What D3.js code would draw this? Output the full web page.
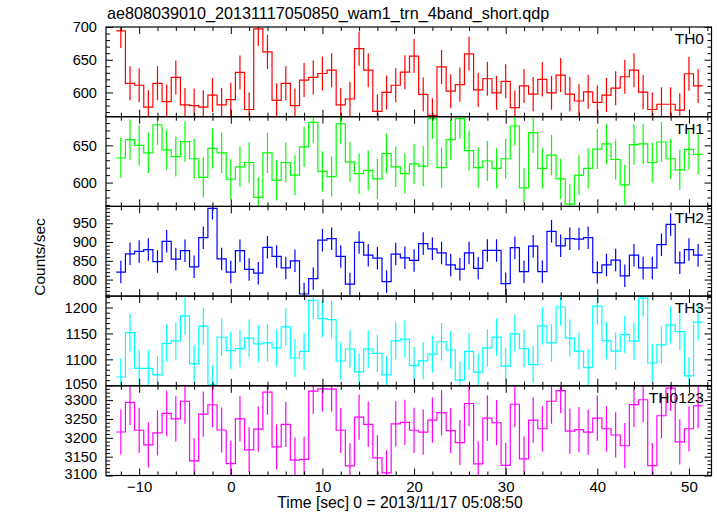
<!DOCTYPE html>
<html><head><meta charset="utf-8">
<script src="https://cdn.jsdelivr.net/npm/d3@7"></script>
<style>
body{margin:0;background:#fff}
text{font-family:"Liberation Sans",Arial,Helvetica,sans-serif}
</style>
</head><body>
<svg id="chart" width="717" height="516"></svg>
<script>
const titleText = "ae808039010_20131117050850_wam1_trn_4band_short.qdp";
const xLabel = "Time [sec] 0 = 2013/11/17 05:08:50";
const yLabel = "Counts/sec";
const times = [-12,-11,-10,-9,-8,-7,-6,-5,-4,-3,-2,-1,0,1,2,3,4,5,6,7,8,9,10,11,12,13,14,15,16,17,18,19,20,21,22,23,24,25,26,27,28,29,30,31,32,33,34,35,36,37,38,39,40,41,42,43,44,45,46,47,48,49,50,51];
const bandNames = ["TH0","TH1","TH2","TH3","TH0123"];
const bandColors = ["#ff0000","#00ff00","#0000ff","#00ffff","#ff00ff"];
const th0 = [694,614,611,577.5,614,586,623,581,580,577.5,596,581,589,630.6,574,697,662,588,614,580,619,623,629,634,581,590,667,634,571,600,611,631,655.6,597,565,639,602,612,659,604,621,599.5,617,577,610,597.5,620,599.5,626.5,597.5,587,601,585,596,606.6,624,634,600.5,574,582,582,573,628.6,610];
const th1 = [633,657.6,650,640,677.7,644,635,655,632,607,646,640,604.5,621,627,580,640,603,627,610,648,681,615,608,679,627.7,612,616.5,605,639,621,612,625,622,686,620,657.6,686,643,620,629,619,632,676,593,667,619,637,605,571,610,619,645,652,631,597,651,652,627,654.5,632,617,644.6,638];
const th2 = [820,868.7,875,880,848,902,854.5,877,834,911.6,990,855,820,877,827,817,886,861.6,831,850,761.6,802.7,905,909,861.6,788,899,865,857,794.6,868,858,851,896,882,871,839,827.7,871,830,877.7,877.7,789,885,821,889,821,928.6,890,909,908,911.6,818.7,839,852,810,865,831,831,893,947,844.6,880,865];
const th3 = [1066,1151.6,1082.6,1082.6,1070,1131,1135.5,1184,1091.6,1164,1052,1142.6,1117,1120.6,1141,1129.7,1131.6,1122,1162.6,1102.6,1115.5,1214,1178.7,1176.8,1096.8,1120,1076,1120,1111.6,1070,1135.5,1139,1088,1097,1110,1134,1118,1060,1115.5,1075.5,1122,1143,1087,1149,1120.6,1090,1164.5,1131.6,1201,1141,1116,1084,1202.6,1136,1116,1148,1135,1218,1093,1127.8,1166.5,1153.6,1068,1172];
const th0123 = [3215.4,3294,3220,3181,3213,3265,3250,3297,3139,3263,3287.7,3220.7,3131.7,3250,3168,3223,3321,3176,3235.7,3141,3143,3324,3330,3329,3220,3125.6,3255,3235.7,3146.7,3107,3237,3241,3220,3215,3247,3267,3219,3187,3291,3131,3252,3240,3127,3289,3144,3247,3224,3297,3325,3218,3221.6,3215,3252,3224,3207.5,3179,3288,3301,3126,3258.6,3332,3189,3224,3285];
const bandErrors = [26, 27, 30, 36, 60];
const yDomains = [[563,700],[568,688.5],[756,995],[1049,1222],[3100,3338]];
const yTickLabels = [[600,650,700],[600,650],[800,850,900,950],[1050,1100,1150,1200],[3100,3150,3200,3250,3300]];
const xTickLabels = [-10,0,10,20,30,40,50];
const xDomain = [-13.62, 52.46];

const series = [th0, th1, th2, th3, th0123];
const svg = d3.select("#chart");
const L = 106, R = 711.5, T = 27, B = 475.5;
const ph = (B - T) / bandNames.length;
const x = d3.scaleLinear().domain(xDomain).range([L, R]);
const xMinor = d3.range(-12, 53, 2).filter(v => v % 10 !== 0);
const fs = "14.6px";

svg.append("text").attr("x", 107).attr("y", 19).attr("font-size", "16.2px").attr("fill", "#000").text(titleText);
svg.append("text").attr("x", 400).attr("y", 508).attr("text-anchor", "middle").attr("font-size", "15.7px").text(xLabel);
svg.append("text").attr("transform", `translate(45,257) rotate(-90)`).attr("text-anchor", "middle").attr("font-size", "15.5px").text(yLabel);

bandNames.forEach((name, k) => {
  const top = T + k * ph, bot = top + ph;
  const y = d3.scaleLinear().domain(yDomains[k]).range([bot, top]);
  const vals = series[k];
  const err = bandErrors[k];
  const col = bandColors[k];
  const g = svg.append("g");
  const cid = "clip" + k;
  svg.append("clipPath").attr("id", cid).append("rect").attr("x", L).attr("y", top).attr("width", R - L).attr("height", ph);
  const dg = g.append("g").attr("clip-path", `url(#${cid})`);
  const pts = times.map((t, i) => [t - 0.5, vals[i]]);
  pts.push([times[times.length - 1] + 0.5, vals[vals.length - 1]]);
  const line = d3.line().x(d => x(d[0])).y(d => y(d[1])).curve(d3.curveStepAfter);
  dg.append("path").attr("d", line(pts)).attr("fill", "none").attr("stroke", col).attr("stroke-width", 1.2);
  dg.selectAll("line.err").data(times).join("line")
    .attr("x1", t => x(t)).attr("x2", t => x(t))
    .attr("y1", (t, i) => y(vals[i] - err)).attr("y2", (t, i) => y(vals[i] + err))
    .attr("stroke", col).attr("stroke-width", 1.2);

  const yMinor = d3.range(Math.ceil(yDomains[k][0] / 10) * 10, yDomains[k][1] + 0.01, 10).filter(v => v % 50 !== 0);
  const styleAxis = sel => { sel.select(".domain").remove(); sel.selectAll(".tick line").attr("stroke", "#000"); sel.selectAll("text").attr("font-size", fs).attr("font-family", '"Liberation Sans",Arial,sans-serif').attr("fill", "#000"); };
  const isLast = k === bandNames.length - 1;
  g.append("g").attr("transform", `translate(0,${bot})`)
    .call(d3.axisBottom(x).tickValues(xTickLabels).tickSize(-7).tickPadding(6).tickFormat(isLast ? d3.format("d") : () => ""))
    .call(styleAxis).selectAll("text").attr("font-size", "15px");
  g.append("g").attr("transform", `translate(0,${bot})`)
    .call(d3.axisBottom(x).tickValues(xMinor).tickSize(-4).tickFormat(() => "")).call(styleAxis);
  g.append("g").attr("transform", `translate(0,${top})`)
    .call(d3.axisTop(x).tickValues(xTickLabels).tickSize(-7).tickFormat(() => "")).call(styleAxis);
  g.append("g").attr("transform", `translate(0,${top})`)
    .call(d3.axisTop(x).tickValues(xMinor).tickSize(-4).tickFormat(() => "")).call(styleAxis);
  const yl = g.append("g").attr("transform", `translate(${L},0)`)
    .call(d3.axisLeft(y).tickValues(yTickLabels[k]).tickSize(-7).tickPadding(9).tickFormat(d3.format("d"))).call(styleAxis);
  // nudge labels sitting on a panel's lower edge so they clear the label of the next panel
  yl.selectAll(".tick").filter(d => y(d) > bot - 3).select("text").attr("dy", "0.2em");
  g.append("g").attr("transform", `translate(${L},0)`)
    .call(d3.axisLeft(y).tickValues(yMinor).tickSize(-4).tickFormat(() => "")).call(styleAxis);
  g.append("g").attr("transform", `translate(${R},0)`)
    .call(d3.axisRight(y).tickValues(yTickLabels[k]).tickSize(-7).tickFormat(() => "")).call(styleAxis);
  g.append("g").attr("transform", `translate(${R},0)`)
    .call(d3.axisRight(y).tickValues(yMinor).tickSize(-4).tickFormat(() => "")).call(styleAxis);
  g.append("rect").attr("x", L).attr("y", top).attr("width", R - L).attr("height", ph).attr("fill", "none").attr("stroke", "#000").attr("stroke-width", 1.2);
  g.append("text").attr("x", 704).attr("y", top + 17).attr("text-anchor", "end").attr("font-size", "15.5px").text(name);
});
</script>
</body></html>
